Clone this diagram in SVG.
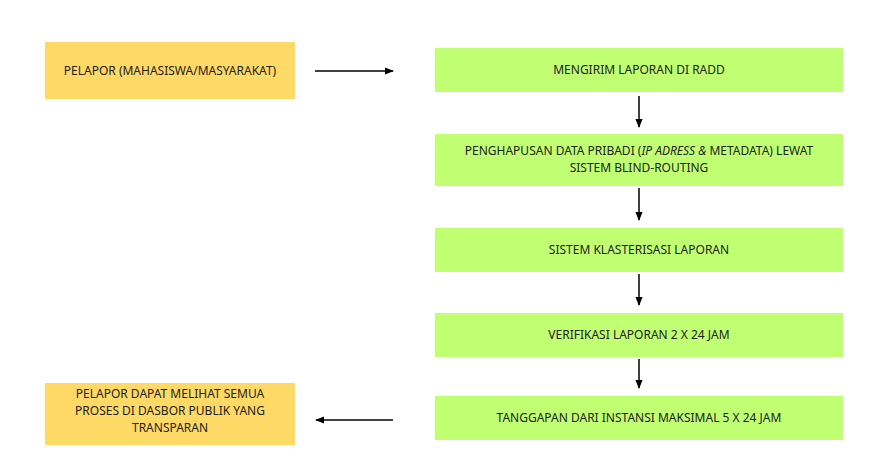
<svg xmlns="http://www.w3.org/2000/svg" width="871" height="460" viewBox="0 0 871 460">
<style>
.y{fill:#FFD966}.g{fill:#C1FF72}
text{font-family:"Noto Sans","Liberation Sans",sans-serif;font-size:12px;fill:#222;text-anchor:middle}
.c line{stroke:#000;stroke-width:1.5;marker-end:url(#a)}
</style>
<defs><marker id="a" viewBox="0 0 10 10" refX="9" refY="5" markerWidth="6" markerHeight="6" orient="auto"><path d="M0,1L10,5L0,9z" fill="#000"/></marker></defs>
<rect width="871" height="460" fill="#fff"/>
<g id="n1"><rect class="y" x="45" y="42" width="250" height="57"/><text x="170" y="75">PELAPOR (MAHASISWA/MASYARAKAT)</text></g>
<g id="n2"><rect class="g" x="435" y="48" width="408" height="44"/><text x="639" y="74">MENGIRIM LAPORAN DI RADD</text></g>
<g id="n3"><rect class="g" x="435" y="134" width="408" height="52"/><text x="639" y="155">PENGHAPUSAN DATA PRIBADI (<tspan font-style="italic">IP ADRESS &amp;</tspan> METADATA) LEWAT</text><text x="639" y="172">SISTEM BLIND-ROUTING</text></g>
<g id="n4"><rect class="g" x="435" y="228" width="408" height="44"/><text x="639" y="254">SISTEM KLASTERISASI LAPORAN</text></g>
<g id="n5"><rect class="g" x="435" y="313" width="408" height="44"/><text x="639" y="339">VERIFIKASI LAPORAN 2 X 24 JAM</text></g>
<g id="n6"><rect class="g" x="435" y="396" width="408" height="44"/><text x="639" y="422">TANGGAPAN DARI INSTANSI MAKSIMAL 5 X 24 JAM</text></g>
<g id="n7"><rect class="y" x="45" y="383" width="250" height="62"/><text x="170" y="398">PELAPOR DAPAT MELIHAT SEMUA</text><text x="170" y="415">PROSES DI DASBOR PUBLIK YANG</text><text x="170" y="432">TRANSPARAN</text></g>
<g class="c">
<line x1="315" y1="71" x2="393" y2="71"/>
<line x1="639" y1="96" x2="639" y2="127"/>
<line x1="639" y1="188" x2="639" y2="220"/>
<line x1="639" y1="274" x2="639" y2="305"/>
<line x1="639" y1="359" x2="639" y2="388"/>
<line x1="393" y1="420" x2="316" y2="420"/>
</g>
</svg>
